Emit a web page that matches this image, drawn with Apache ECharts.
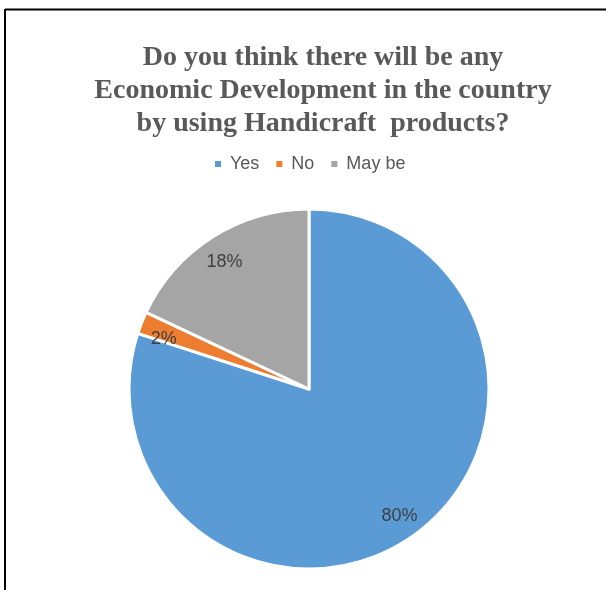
<!DOCTYPE html>
<html>
<head>
<meta charset="utf-8">
<script src="https://cdn.jsdelivr.net/npm/echarts@6/dist/echarts.min.js"></script>
<style>
  html, body { margin: 0; padding: 0; background: #fff; }
  #chart { width: 606px; height: 590px; }
</style>
</head>
<body>
<div id="chart"></div>
<script>
// Survey answers and their shares (percent)
const categories = ['Yes', 'No', 'May be'];
const shares = [80, 2, 18];
const sliceColors = ['#5B9BD5', '#ED7D31', '#A5A5A5'];

const titleLines = [
  'Do you think there will be any',
  'Economic Development in the country',
  'by using Handicraft  products?'
];

// small nudges for the percentage labels, by category
const labelNudge = { 'Yes': [0, 2], 'No': [-2, 7], 'May be': [-2, 3] };

const pieData = categories.map((name, i) => ({
  name: name,
  value: shares[i],
  itemStyle: { color: sliceColors[i] }
}));

const chart = echarts.init(document.getElementById('chart'), null, { renderer: 'canvas' });

const center = [309, 389];
const outerR = 180;

chart.setOption({
  animation: false,
  backgroundColor: '#ffffff',
  title: {
    text: titleLines.join('\n'),
    left: 318,
    textAlign: 'center',
    top: 36,
    textStyle: {
      fontFamily: 'Liberation Serif',
      fontWeight: 'bold',
      fontSize: 28,
      lineHeight: 33,
      color: '#595959'
    }
  },
  legend: {
    data: categories,
    top: 150,
    left: 208,
    itemWidth: 8,
    itemHeight: 8,
    itemGap: 15,
    icon: 'rect',
    textStyle: {
      fontFamily: 'Liberation Sans',
      fontSize: 18,
      color: '#595959',
      padding: [0, 0, 0, 3]
    }
  },
  graphic: [
    { type: 'line', shape: { x1: 5, y1: 9.5, x2: 606, y2: 9.5 }, style: { stroke: '#000', lineWidth: 2 } },
    { type: 'line', shape: { x1: 5, y1: 9, x2: 5, y2: 590 }, style: { stroke: '#000', lineWidth: 2 } }
  ],
  series: [
    {
      name: 'Share',
      type: 'pie',
      center: center,
      radius: [0, outerR],
      startAngle: 90,
      clockwise: true,
      label: { show: false },
      labelLine: { show: false },
      emphasis: { disabled: true },
      itemStyle: { borderColor: '#ffffff', borderWidth: 3 },
      data: pieData
    },
    {
      // transparent ring carrying the percentage labels near the rim
      name: 'Labels',
      type: 'pie',
      center: center,
      radius: [122, outerR],
      startAngle: 90,
      clockwise: true,
      silent: true,
      legendHoverLink: false,
      emphasis: { disabled: true },
      itemStyle: { color: 'rgba(0,0,0,0)', borderWidth: 0 },
      label: {
        show: true,
        position: 'inside',
        formatter: '{c}%',
        fontFamily: 'Liberation Sans',
        fontSize: 18,
        color: '#404040'
      },
      labelLine: { show: false },
      data: categories.map((name, i) => ({
        name: name,
        value: shares[i],
        label: { offset: labelNudge[name] }
      }))
    }
  ]
});
</script>
</body>
</html>
